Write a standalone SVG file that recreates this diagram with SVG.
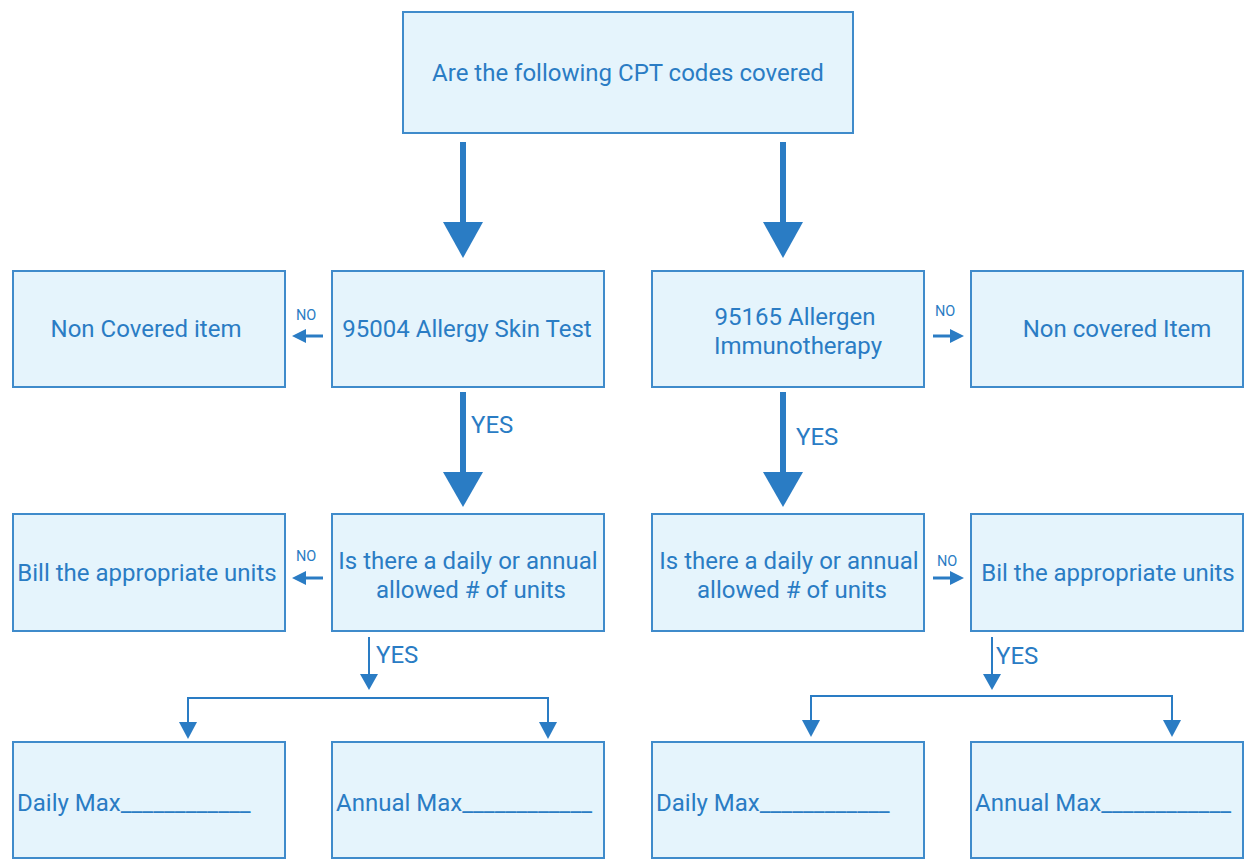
<svg xmlns="http://www.w3.org/2000/svg" width="1248" height="863" viewBox="0 0 1248 863">
<style>
.box{fill:#E5F4FC;stroke:#3F8BCB;stroke-width:2}
text{font-family:Roboto,"Liberation Sans",sans-serif;fill:#2A7CC4;font-size:24px}
.c{text-anchor:middle}
.s{font-size:14.5px}
.ln{stroke:#2A7CC4;fill:none}
.hd{fill:#2A7CC4}
</style>
<rect width="1248" height="863" fill="#fff"/>
<g id="n0"><rect class="box" x="403" y="12" width="450" height="121"/><text class="c" x="628" y="81">Are the following CPT codes covered</text></g>
<g id="n1"><rect class="box" x="13" y="271" width="272" height="116"/><text class="c" x="146" y="337">Non Covered item</text></g>
<g id="n2"><rect class="box" x="332" y="271" width="272" height="116"/><text class="c" x="467" y="337">95004 Allergy Skin Test</text></g>
<g id="n3"><rect class="box" x="652" y="271" width="272" height="116"/><text class="c" x="795" y="325">95165 Allergen</text><text class="c" x="798" y="354">Immunotherapy</text></g>
<g id="n4"><rect class="box" x="971" y="271" width="272" height="116"/><text class="c" x="1117" y="337">Non covered Item</text></g>
<g id="n5"><rect class="box" x="13" y="514" width="272" height="117"/><text class="c" x="147" y="581">Bill the appropriate units</text></g>
<g id="n6"><rect class="box" x="332" y="514" width="272" height="117"/><text class="c" x="468" y="569">Is there a daily or annual</text><text class="c" x="471" y="598">allowed # of units</text></g>
<g id="n7"><rect class="box" x="652" y="514" width="272" height="117"/><text class="c" x="789" y="569">Is there a daily or annual</text><text class="c" x="792" y="598">allowed # of units</text></g>
<g id="n8"><rect class="box" x="971" y="514" width="272" height="117"/><text class="c" x="1108" y="581">Bil the appropriate units</text></g>
<g id="n9"><rect class="box" x="13" y="742" width="272" height="116"/><text x="17" y="811">Daily Max____________</text></g>
<g id="n10"><rect class="box" x="332" y="742" width="272" height="116"/><text x="336" y="811">Annual Max____________</text></g>
<g id="n11"><rect class="box" x="652" y="742" width="272" height="116"/><text x="656" y="811">Daily Max____________</text></g>
<g id="n12"><rect class="box" x="971" y="742" width="272" height="116"/><text x="975" y="811">Annual Max____________</text></g>
<g id="connectors">
<line class="ln" x1="463" y1="142" x2="463" y2="225" stroke-width="6"/><polygon class="hd" points="443,222 483,222 463,258"/>
<line class="ln" x1="783" y1="142" x2="783" y2="225" stroke-width="6"/><polygon class="hd" points="763,222 803,222 783,258"/>
<line class="ln" x1="463" y1="392" x2="463" y2="475" stroke-width="6"/><polygon class="hd" points="443,472 483,472 463,507"/>
<line class="ln" x1="783" y1="392" x2="783" y2="475" stroke-width="6"/><polygon class="hd" points="763,472 803,472 783,507"/>
<line class="ln" x1="323" y1="336" x2="304" y2="336" stroke-width="3"/><polygon class="hd" points="306,329 306,343 292,336"/>
<line class="ln" x1="933" y1="336" x2="952" y2="336" stroke-width="3"/><polygon class="hd" points="950,329 950,343 964,336"/>
<line class="ln" x1="323" y1="578" x2="304" y2="578" stroke-width="3"/><polygon class="hd" points="306,571 306,585 292,578"/>
<line class="ln" x1="933" y1="578" x2="952" y2="578" stroke-width="3"/><polygon class="hd" points="950,571 950,585 964,578"/>
<line class="ln" x1="369" y1="637" x2="369" y2="676" stroke-width="2"/><polygon class="hd" points="360,674 378,674 369,690"/>
<line class="ln" x1="992" y1="637" x2="992" y2="676" stroke-width="2"/><polygon class="hd" points="983,674 1001,674 992,690"/>
<polyline class="ln" points="188,724 188,698 548,698 548,724" stroke-width="2"/><polygon class="hd" points="179,722 197,722 188,739"/><polygon class="hd" points="539,722 557,722 548,739"/>
<polyline class="ln" points="811,722 811,696 1172,696 1172,722" stroke-width="2"/><polygon class="hd" points="802,720 820,720 811,737"/><polygon class="hd" points="1163,720 1181,720 1172,737"/>
<text x="471" y="433">YES</text>
<text x="796" y="445">YES</text>
<text x="376" y="663">YES</text>
<text x="996" y="664">YES</text>
<text class="s" x="296" y="320">NO</text>
<text class="s" x="935" y="316">NO</text>
<text class="s" x="296" y="561">NO</text>
<text class="s" x="937" y="566">NO</text>
</g>
</svg>
